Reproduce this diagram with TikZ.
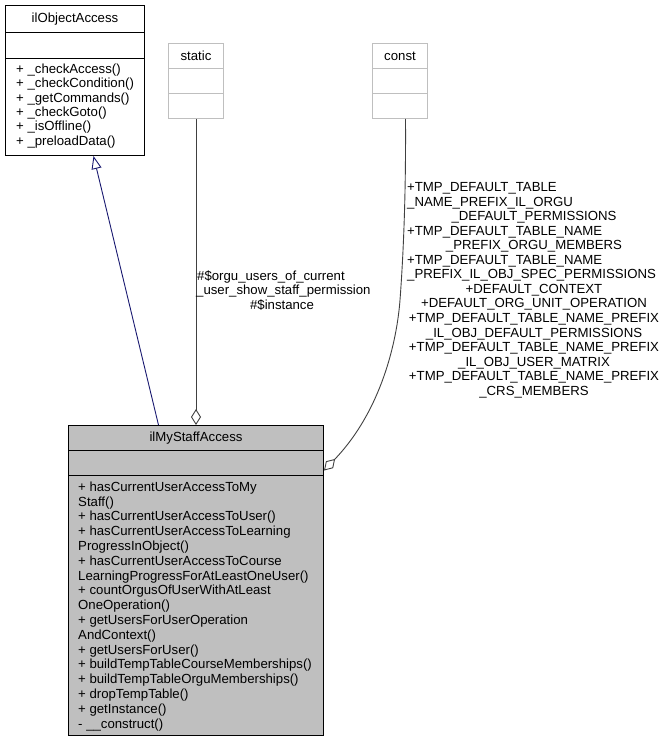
\documentclass[tikz,border=0pt]{standalone}
\usepackage{fontspec}
\setmainfont{Liberation Sans}
\usetikzlibrary{arrows.meta}
\definecolor{boxgray}{RGB}{191,191,191}
\definecolor{edgegray}{RGB}{64,64,64}
\definecolor{inhblue}{RGB}{25,25,112}
\begin{document}
\begin{tikzpicture}[x=1pt,y=-1pt,
  every node/.style={font=\fontsize{13.2}{14.8}\selectfont},
  comp/.style={draw=black, line width=1pt, inner sep=0pt, anchor=north west},
  lightcomp/.style={draw=boxgray, line width=1pt, inner sep=0pt, anchor=north west},
  mainfill/.style={fill=boxgray},
  txtblock/.style={anchor=north west, inner sep=0pt, align=left},
  lbl/.style={inner sep=0pt},
  inh/.style={draw=inhblue, line width=0.9pt, -{Triangle[open, length=13pt, width=10pt]}},
  usage/.style={draw=edgegray, line width=0.9pt, -{Diamond[open, length=16pt, width=10pt]}}]
\useasboundingbox (0,0) rectangle (668,741);

% ilObjectAccess
\node[comp, minimum width=139pt, minimum height=27pt] (oa-title) at (5,5) {ilObjectAccess};
\node[comp, minimum width=139pt, minimum height=26pt] (oa-attr) at (5,32) {};
\node[comp, minimum width=139pt, minimum height=97pt] (oa-meth) at (5,58) {};
\node[txtblock, font=\fontsize{13.2}{14.3}\selectfont] (oa-text) at (16,62.3) {\rule{0pt}{11pt}+ \_checkAccess()\\+ \_checkCondition()\\+ \_getCommands()\\+ \_checkGoto()\\+ \_isOffline()\\+ \_preloadData()};

% static
\node[lightcomp, minimum width=55pt, minimum height=25pt] (st-title) at (168,43) {static};
\node[lightcomp, minimum width=55pt, minimum height=25pt] (st-attr) at (168,68) {};
\node[lightcomp, minimum width=55pt, minimum height=25pt] (st-meth) at (168,93) {};

% const
\node[lightcomp, minimum width=55pt, minimum height=25pt] (co-title) at (372,43) {const};
\node[lightcomp, minimum width=55pt, minimum height=25pt] (co-attr) at (372,68) {};
\node[lightcomp, minimum width=55pt, minimum height=25pt] (co-meth) at (372,93) {};

% ilMyStaffAccess
\node[comp, mainfill, minimum width=255pt, minimum height=25pt] (main-title) at (68,425) {ilMyStaffAccess};
\node[comp, mainfill, minimum width=255pt, minimum height=25pt] (main-attr) at (68,450) {};
\node[comp, mainfill, minimum width=255pt, minimum height=260pt] (main-meth) at (68,475) {};
\node[txtblock] (main-text) at (78,480) {\rule{0pt}{11pt}+ hasCurrentUserAccessToMy\\Staff()\\+ hasCurrentUserAccessToUser()\\+ hasCurrentUserAccessToLearning\\ProgressInObject()\\+ hasCurrentUserAccessToCourse\\LearningProgressForAtLeastOneUser()\\+ countOrgusOfUserWithAtLeast\\OneOperation()\\+ getUsersForUserOperation\\AndContext()\\+ getUsersForUser()\\+ buildTempTableCourseMemberships()\\+ buildTempTableOrguMemberships()\\+ dropTempTable()\\+ getInstance()\\- \_\_construct()};

% connectors
\draw[inh] ([xshift=-37.5pt]main-title.north) -- ([xshift=18.5pt]oa-meth.south);
\draw[usage] (st-meth.south) -- (st-meth.south |- main-title.north);
\coordinate (cbend) at (400,300);
\draw[usage] ([xshift=5.5pt]co-meth.south) .. controls (406,200) and (403,260) .. (cbend)
  .. controls (397,340) and (382,410) .. ([yshift=-7.5pt]main-attr.east);

% static label
\node[lbl, anchor=base west] (sl1) at (197,280) {\#\$orgu\_users\_of\_current};
\node[lbl, anchor=base west] (sl2) at (196,294.5) {\_user\_show\_staff\_permission};
\node[lbl, anchor=base] (sl3) at (282,309) {\#\$instance};

% const label
\foreach \i/\t in {1/+TMP\_DEFAULT\_TABLE, 2/\_NAME\_PREFIX\_IL\_ORGU, 4/+TMP\_DEFAULT\_TABLE\_NAME, 6/+TMP\_DEFAULT\_TABLE\_NAME, 7/\_PREFIX\_IL\_OBJ\_SPEC\_PERMISSIONS}
  \node[lbl, anchor=base west] (cl\i) at (407,{191.5+(\i-1)*14.55}) {\t};
\foreach \i/\t in {3/\_DEFAULT\_PERMISSIONS, 5/\_PREFIX\_ORGU\_MEMBERS, 8/+DEFAULT\_CONTEXT, 9/+DEFAULT\_ORG\_UNIT\_OPERATION, 10/+TMP\_DEFAULT\_TABLE\_NAME\_PREFIX, 11/\_IL\_OBJ\_DEFAULT\_PERMISSIONS, 12/+TMP\_DEFAULT\_TABLE\_NAME\_PREFIX, 13/\_IL\_OBJ\_USER\_MATRIX, 14/+TMP\_DEFAULT\_TABLE\_NAME\_PREFIX, 15/\_CRS\_MEMBERS}
  \node[lbl, anchor=base] (cl\i) at (534,{191.5+(\i-1)*14.55}) {\t};
\end{tikzpicture}
\end{document}
